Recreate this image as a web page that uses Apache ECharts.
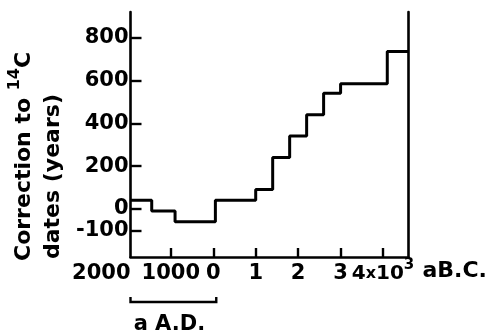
<!DOCTYPE html>
<html><head><meta charset="utf-8">
<script src="https://cdn.jsdelivr.net/npm/echarts@6/dist/echarts.min.js"></script>
<style>html,body{margin:0;padding:0;background:#fff}#c{width:489px;height:330px}</style>
</head><body><div id="c"></div>
<script>
// x in years: negative = A.D., positive = B.C.
const stepStarts = [-1950, -1450, -900, 50, 1000, 1400, 1800, 2200, 2600, 3000, 4100, 4600];
const corrections = [40, -10, -60, 40, 90, 240, 340, 440, 540, 585, 735, 735];
const xTickValues = [-1950, -1000, 0, 1000, 2000, 3000, 4000];
const yTickValues = [-100, 0, 200, 400, 600, 800];
const xLimits = [-1950, 4600];
const yLimits = [-225, 920];

const FONT = 'DejaVu Sans';
const FS = 21;
const chart = echarts.init(document.getElementById('c'), null, {renderer: 'canvas'});

const axisLineStyle = {color: '#000', width: 2.6};
const option = {
  animation: false,
  backgroundColor: '#fff',
  grid: {left: 130.5, right: 80.5, top: 12, bottom: 73, containLabel: false},
  xAxis: {
    type: 'value', min: xLimits[0], max: xLimits[1],
    splitLine: {show: false},
    axisLine: {show: true, onZero: false, lineStyle: axisLineStyle},
    axisTick: {show: true, inside: true, length: 9, lineStyle: {color: '#000', width: 2.4},
      customValues: xTickValues.slice(1)},
    axisLabel: {
      customValues: xTickValues, showMaxLabel: true,
      color: '#000', fontFamily: FONT, fontWeight: 'bold', fontSize: FS, margin: 1, lineHeight: 32,
      alignMinLabel: 'right',
      formatter: function (v) {
        if (v === xLimits[0]) return '2000';
        if (v < 0) return String(-v);
        if (v === 0) return '0';
        if (v === 4000) return '{n|4}{x|x}{n|10}{sup|3}';
        return String(v / 1000);
      },
      rich: {
        n: {fontFamily: FONT, fontWeight: 'bold', fontSize: 20, color: '#000', lineHeight: 32},
        x: {fontFamily: FONT, fontWeight: 'bold', fontSize: 16, color: '#000', lineHeight: 32},
        sup: {fontFamily: FONT, fontWeight: 'bold', fontSize: 15, color: '#000', verticalAlign: 'top', lineHeight: 16}
      }
    }
  },
  yAxis: [{
    type: 'value', min: yLimits[0], max: yLimits[1],
    splitLine: {show: false},
    axisLine: {show: true, onZero: false, lineStyle: axisLineStyle},
    axisTick: {show: true, inside: true, length: 11, lineStyle: {color: '#000', width: 2.4},
      customValues: yTickValues},
    axisLabel: {customValues: yTickValues,
      color: '#000', fontFamily: FONT, fontWeight: 'bold', fontSize: 21, margin: 2}
  }, {
    type: 'value', min: yLimits[0], max: yLimits[1], position: 'right',
    splitLine: {show: false},
    axisLine: {show: true, onZero: false, lineStyle: axisLineStyle},
    axisTick: {show: false}, axisLabel: {show: false}
  }],
  series: [{
    type: 'line', step: 'end', symbol: 'none',
    data: stepStarts.map((x, i) => [x, corrections[i]]),
    lineStyle: {color: '#000', width: 3}
  }]
};
chart.setOption(option);

const p0 = chart.convertToPixel({gridIndex: 0}, [xLimits[0], yLimits[0]]);
const pZero = chart.convertToPixel({gridIndex: 0}, [0, yLimits[0]]);
const pEnd = chart.convertToPixel({gridIndex: 0}, [xLimits[1], yLimits[0]]);
const bx0 = p0[0], bx1 = pZero[0] + 3, by = p0[1] + 45;
const titleRich = {
  n: {fontFamily: FONT, fontWeight: 'bold', fontSize: 22, fill: '#000', lineHeight: 34},
  s: {fontFamily: FONT, fontWeight: 'bold', fontSize: 16, fill: '#000', verticalAlign: 'top', lineHeight: 16}
};
chart.setOption({
  graphic: [
    {type: 'polyline', silent: true, shape: {points: [[bx0, by - 5], [bx0, by], [bx1, by], [bx1, by - 5]]},
      style: {stroke: '#000', lineWidth: 2.4, fill: null}},
    {type: 'text', x: (bx0 + bx1) / 2 - 4, y: by + 23, silent: true,
      style: {text: 'a A.D.', fontFamily: FONT, fontWeight: 'bold', fontSize: FS, fill: '#000', align: 'center', verticalAlign: 'middle'}},
    {type: 'text', x: pEnd[0] + 14, y: p0[1] + 14, silent: true,
      style: {text: 'aB.C.', fontFamily: FONT, fontWeight: 'bold', fontSize: 22, fill: '#000', align: 'left', verticalAlign: 'middle'}},
    {type: 'text', x: 24, y: 261, rotation: Math.PI / 2, silent: true,
      style: {text: '{n|Correction to }{s|14}{n|C}', rich: titleRich, align: 'left', verticalAlign: 'middle'}},
    {type: 'text', x: 53, y: 259, rotation: Math.PI / 2, silent: true,
      style: {text: 'dates (years)', fontFamily: FONT, fontWeight: 'bold', fontSize: 22, fill: '#000', align: 'left', verticalAlign: 'middle'}}
  ]
});
</script></body></html>
